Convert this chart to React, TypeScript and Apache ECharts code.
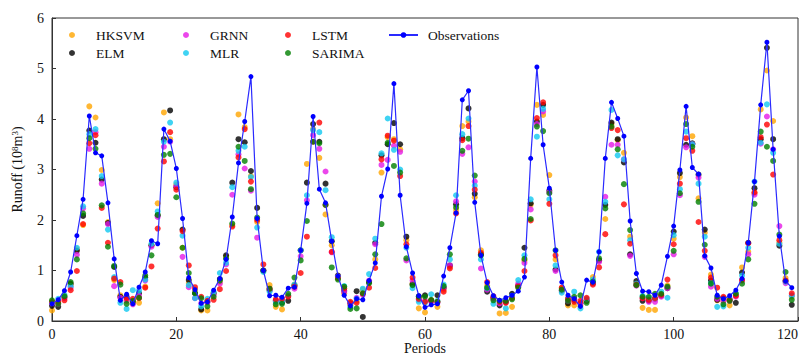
import React, { useEffect, useRef } from "react";
import * as echarts from "echarts";

const observations = [0.34,0.42,0.60,0.97,1.69,2.41,4.06,3.33,3.27,2.34, 1.23,0.41,0.53,0.34,0.67,0.97,1.59,1.53,3.80,3.56, 3.02,2.03,0.86,0.62,0.35,0.38,0.61,0.84,1.22,2.06, 3.13,3.95,4.84,2.03,1.00,0.50,0.51,0.47,0.65,0.67, 1.40,2.33,4.05,2.61,2.34,1.58,0.89,0.51,0.30,0.44, 0.42,0.80,1.15,2.47,3.01,4.70,2.49,1.47,0.95,0.50, 0.27,0.32,0.34,0.89,1.45,2.14,4.38,4.56,2.35,1.30, 0.76,0.50,0.41,0.46,0.51,0.59,0.87,3.22,5.03,3.49, 2.63,1.40,0.77,0.51,0.44,0.29,0.81,0.77,1.37,3.22, 4.33,4.01,3.66,1.98,0.94,0.59,0.58,0.51,0.71,1.28, 1.88,2.99,4.25,3.04,2.91,1.29,1.05,0.51,0.44,0.50, 0.61,0.84,1.55,2.76,4.28,5.52,3.40,1.68,0.79,0.66];

const hksvm = [0.21,0.36,0.50,0.72,1.42,1.90,4.25,4.03,2.99,1.96, 0.81,0.51,0.40,0.35,0.36,0.68,1.50,2.33,4.13,3.60, 2.70,1.45,0.75,0.62,0.21,0.21,0.55,0.77,1.27,1.90, 4.09,3.84,2.87,1.96,1.00,0.71,0.28,0.23,0.50,0.72, 1.40,3.11,3.80,3.23,2.11,1.50,0.85,0.55,0.31,0.40, 0.62,0.78,1.22,2.94,3.64,3.60,3.40,1.60,0.74,0.25, 0.17,0.40,0.28,0.62,1.07,2.20,3.86,3.95,2.45,1.40, 0.70,0.45,0.15,0.16,0.28,0.70,1.20,2.30,4.28,4.08, 2.89,1.22,0.65,0.31,0.31,0.30,0.40,0.87,1.20,2.02, 3.90,3.58,3.33,1.67,0.75,0.26,0.22,0.22,0.50,0.70, 1.63,2.85,4.03,3.66,2.43,1.75,0.92,0.41,0.40,0.31, 0.50,1.06,1.37,2.53,4.19,4.96,3.96,1.55,0.85,0.48];

const elm = [0.30,0.28,0.47,0.74,1.39,2.08,3.77,3.53,2.80,1.94, 1.07,0.48,0.48,0.38,0.55,0.86,1.50,2.09,3.60,4.17, 2.65,1.81,0.81,0.55,0.23,0.38,0.55,0.83,1.30,2.74, 3.60,3.54,2.97,2.24,1.00,0.61,0.40,0.37,0.40,0.70, 1.40,2.74,3.90,3.55,2.72,1.58,0.90,0.60,0.35,0.59, 0.08,0.77,1.55,3.28,3.50,3.92,3.50,1.67,0.73,0.49, 0.51,0.40,0.51,0.66,1.10,2.31,3.62,4.21,2.52,1.32, 0.58,0.46,0.31,0.38,0.54,0.70,1.45,2.33,3.95,4.28, 2.58,1.02,0.60,0.35,0.42,0.35,0.40,0.75,1.20,2.30, 3.93,3.60,3.14,1.32,0.79,0.40,0.40,0.44,0.50,0.65, 1.77,2.93,3.49,3.52,2.90,1.81,0.80,0.42,0.45,0.42, 0.36,0.96,1.55,2.63,3.60,5.41,3.60,1.49,0.79,0.32];

const grnn = [0.35,0.34,0.45,0.66,1.31,2.23,3.41,3.74,2.72,1.92, 0.69,0.46,0.41,0.33,0.50,0.80,1.47,2.06,3.45,3.55, 2.67,1.27,0.67,0.45,0.35,0.37,0.52,0.74,1.12,2.50, 3.30,3.02,2.58,1.65,1.00,0.62,0.40,0.40,0.50,0.64, 1.28,2.39,3.68,3.41,2.96,1.36,0.88,0.58,0.34,0.46, 0.52,0.80,1.52,3.09,3.19,3.47,3.35,1.20,0.80,0.42, 0.40,0.38,0.36,0.65,1.10,2.37,3.31,3.44,2.76,1.04, 0.62,0.44,0.35,0.38,0.48,0.74,1.15,2.21,3.90,4.15, 2.55,0.99,0.60,0.40,0.44,0.35,0.42,0.75,1.17,2.46, 3.49,3.49,3.20,1.29,0.70,0.45,0.38,0.38,0.48,0.65, 1.32,2.49,3.44,3.50,2.84,1.27,0.68,0.44,0.40,0.40, 0.48,0.80,1.32,2.50,3.51,4.05,3.40,1.88,0.75,0.51];

const mlr = [0.37,0.44,0.52,0.69,1.45,2.27,3.70,3.80,2.87,1.81, 0.87,0.36,0.24,0.61,0.60,0.82,1.53,2.17,3.55,3.93, 2.74,1.69,0.71,0.45,0.29,0.44,0.57,0.95,1.15,2.65, 3.37,3.45,2.85,1.85,0.97,0.58,0.38,0.38,0.50,0.72, 1.40,2.49,3.78,3.74,2.59,1.66,0.87,0.69,0.28,0.44, 0.64,0.93,1.63,3.32,4.01,3.39,3.00,1.45,0.65,0.38, 0.36,0.53,0.40,0.72,1.22,2.49,3.70,4.01,2.68,1.22, 0.65,0.34,0.40,0.25,0.50,0.81,1.30,2.41,3.65,4.20, 2.41,1.10,0.56,0.45,0.58,0.25,0.44,0.82,1.37,2.36, 4.18,3.28,3.20,1.60,0.74,0.50,0.46,0.45,0.58,0.46, 1.70,2.61,3.75,3.50,2.72,1.67,0.75,0.28,0.29,0.45, 0.55,0.90,1.45,2.76,3.53,4.29,3.33,1.53,0.78,0.50];

const lstm = [0.38,0.38,0.41,0.61,0.99,1.92,3.52,3.68,2.24,1.55, 0.84,0.77,0.45,0.44,0.45,0.66,1.08,1.83,3.16,3.74, 2.60,1.78,1.10,0.67,0.48,0.40,0.42,0.63,0.99,1.87, 3.24,3.80,2.76,2.00,1.12,0.64,0.43,0.44,0.48,0.68, 0.95,1.67,3.55,3.93,2.30,1.37,0.85,0.65,0.38,0.36, 0.54,0.66,1.05,3.20,3.67,3.57,2.87,1.52,0.86,0.44, 0.38,0.41,0.38,0.58,1.04,2.13,3.58,3.86,2.60,1.35, 0.77,0.49,0.38,0.36,0.45,0.68,0.99,1.99,4.02,4.33, 2.32,1.30,0.66,0.44,0.38,0.40,0.46,0.72,1.06,1.72, 3.82,3.78,2.31,1.53,0.72,0.45,0.42,0.45,0.52,0.82, 1.52,2.72,3.62,3.37,1.96,1.39,0.86,0.66,0.48,0.42, 0.50,0.81,1.54,2.55,3.64,3.89,2.90,1.60,0.80,0.55];

const sarima = [0.41,0.34,0.49,0.77,1.22,2.13,3.62,3.41,2.29,1.47, 1.09,0.72,0.34,0.40,0.46,0.90,1.30,2.10,3.29,3.31, 2.45,1.45,0.95,0.55,0.45,0.29,0.48,0.80,1.24,1.93, 3.45,3.17,2.61,2.05,1.00,0.64,0.33,0.34,0.54,0.86, 1.20,1.98,3.55,3.52,2.30,1.06,0.82,0.68,0.24,0.25, 0.55,0.75,1.32,1.92,3.53,3.07,2.94,1.24,0.71,0.48, 0.48,0.42,0.38,0.69,1.32,2.25,3.37,3.61,2.88,1.30, 0.66,0.41,0.40,0.40,0.43,0.66,1.23,2.02,3.85,3.76, 2.53,1.40,0.62,0.40,0.48,0.51,0.36,0.78,1.24,2.23, 3.85,3.40,2.71,1.80,0.71,0.48,0.48,0.54,0.54,0.68, 1.39,2.53,3.90,3.45,2.36,1.51,0.74,0.48,0.33,0.40, 0.54,0.74,1.22,2.32,3.75,3.45,3.17,1.71,0.97,0.42];

const modelNames = ["HKSVM", "ELM", "GRNN", "MLR", "LSTM", "SARIMA"];
const modelColors = ["#FFA500", "#000000", "#E619E6", "#10C8F0", "#FF0000", "#008000"];
const modelValues = [hksvm, elm, grnn, mlr, lstm, sarima];

const FONT = "Liberation Serif, serif";

export default function App() {
  const ref = useRef<HTMLDivElement>(null);
  useEffect(() => {
    if (!ref.current) return;
    const chart = echarts.init(ref.current, null, { renderer: "svg" });
    const toPairs = (arr: number[]) => arr.map((v, i) => [i, v]);
    const scatterSeries = modelNames.map((name, k) => ({
      name,
      type: "scatter",
      data: toPairs(modelValues[k]),
      symbol: "circle",
      symbolSize: 6,
      itemStyle: { color: modelColors[k] },
      z: 2,
    }));
    const legendText = { fontFamily: FONT, fontSize: 13.5, color: "#111" };
    const mkLegend = (data: string[], left: number) => ({
      data,
      left,
      top: 23,
      orient: "vertical",
      icon: "circle",
      itemWidth: 38,
      itemHeight: 6,
      itemGap: 4,
      textStyle: legendText,
    });
    chart.setOption({
      animation: false,
      backgroundColor: "#fff",
      grid: {
        left: 52,
        right: 8,
        top: 18,
        bottom: 35,
        show: true,
        borderColor: "#333",
        borderWidth: 1,
        outerBoundsMode: "none",
        containLabel: false,
      },
      legend: [
        mkLegend(["HKSVM", "ELM"], 64),
        mkLegend(["GRNN", "MLR"], 178),
        mkLegend(["LSTM", "SARIMA"], 280),
        {
          data: ["Observations"],
          left: 383,
          top: 23,
          itemWidth: 29,
          itemHeight: 7,
          textStyle: { ...legendText, padding: [0, 0, 0, 5] },
        },
      ],
      xAxis: {
        type: "value",
        min: 0,
        max: 120,
        interval: 20,
        name: "Periods",
        nameLocation: "middle",
        nameGap: 20,
        nameMoveOverlap: false,
        nameTextStyle: { fontFamily: FONT, fontSize: 14, color: "#111" },
        axisLine: { lineStyle: { color: "#333" } },
        axisTick: { inside: true, length: 4, lineStyle: { color: "#333" } },
        axisLabel: { fontFamily: FONT, fontSize: 14, color: "#111", margin: 6, alignMaxLabel: "right" },
        splitLine: { show: false },
      },
      yAxis: {
        type: "value",
        min: 0,
        max: 6,
        interval: 1,
        name: "Runoff (10{sup|8}m{sup|3})",
        nameLocation: "middle",
        nameGap: 27,
        nameMoveOverlap: false,
        nameTextStyle: {
          fontFamily: FONT,
          fontSize: 14,
          color: "#111",
          rich: { sup: { fontFamily: FONT, fontSize: 9, color: "#111", verticalAlign: "top", padding: [0, 0, 6, 0] } },
        },
        axisLine: { lineStyle: { color: "#333" } },
        axisTick: { inside: true, length: 4, lineStyle: { color: "#333" } },
        axisLabel: { fontFamily: FONT, fontSize: 14, color: "#111", margin: 8 },
        splitLine: { show: false },
      },
      series: [
        ...scatterSeries,
        {
          name: "Observations",
          type: "line",
          data: toPairs(observations),
          symbol: "circle",
          symbolSize: 5,
          showSymbol: true,
          lineStyle: { color: "#2a2aff", width: 1.2 },
          itemStyle: { color: "#0000ff" },
          z: 3,
        },
      ],
    });
    return () => chart.dispose();
  }, []);
  return <div ref={ref} style={{ position: "fixed", left: 0, top: 0, width: 806, height: 356 }} />;
}
